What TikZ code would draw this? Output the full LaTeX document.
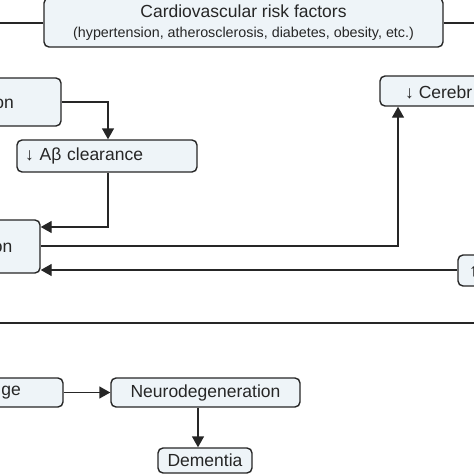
\documentclass[tikz,border=0pt]{standalone}
\usepackage{fontspec}
\setmainfont{Liberation Sans}
\usetikzlibrary{arrows.meta}
\definecolor{boxfill}{HTML}{EEF4F8}
\definecolor{ink}{HTML}{262626}
\tikzset{
  box/.style={draw=ink, line width=1.4pt, rounded corners=5pt, fill=boxfill, inner sep=0pt, text=ink, font=\fontsize{17.5}{21}\selectfont},
  frag/.style={inner sep=0pt, text=ink, font=\fontsize{17.5}{21}\selectfont},
  conn/.style={draw=ink, line width=1.4pt},
  arr/.style={conn, -{Triangle[length=11pt,width=12pt]}}
}
\begin{document}
\begin{tikzpicture}[x=1pt,y=-1pt]
\useasboundingbox (0,0) rectangle (474,474);
\clip (0,0) rectangle (474,474);
% boxes
\node[box, minimum width=399pt, minimum height=49pt, align=center] (risk) at (243.5,22.5)
  {Cardiovascular risk factors\\[-1pt]{\fontsize{14.3}{17}\selectfont (hypertension, atherosclerosis, diabetes, obesity, etc.)}};
\node[box, minimum width=121pt, minimum height=48pt] (l1) at (0.5,102) {};
\node[frag, anchor=east] (l1t) at (14,103.5) {on};
\node[box, minimum width=180pt, minimum height=32pt, text width=164pt, align=left] (ab) at (107,156) {↓ Aβ clearance};
\node[box, minimum width=100pt, minimum height=53pt] (l2) at (-10,246.5) {};
\node[frag, anchor=east] (l2t) at (12.5,248) {on};
\node[box, minimum width=160pt, minimum height=30pt] (cer) at (460,91) {};
\node[frag, anchor=west] (cert) at (405,92) {↓ Cerebr};
\node[box, minimum width=102pt, minimum height=31pt] (up) at (509,270.5) {};
\node[frag, anchor=west] (upt) at (469,272) {↑};
\node[box, minimum width=123pt, minimum height=29pt] (ge) at (1.5,392.5) {};
\node[frag, anchor=east] (get) at (21,393) {ge};
\node[box, minimum width=189pt, minimum height=29pt] (neuro) at (205.5,392.5) {Neurodegeneration};
\node[box, minimum width=94pt, minimum height=25pt] (dem) at (205,460.5) {Dementia};
% free ends
\coordinate (lft) at (0,23);
\coordinate (rgt) at (474,23);
\coordinate (sepl) at (0,323);
\coordinate (sepr) at (474,323);
% connectors
\draw[conn] (risk.west |- lft) -- (lft);
\draw[conn] (risk.east |- rgt) -- (rgt);
\draw[conn] (sepl) -- (sepr);
\draw[arr] (l1.east |- 0,102) -| (108,0 |- ab.north);
\draw[arr] (108,0 |- ab.south) |- (l2.east |- 0,227);
\draw[arr] (l2.east |- 0,246) -| (398,0 |- cer.south);
\draw[arr] (up.west |- 0,270) -- (l2.east |- 0,270);
\draw[arr] (ge) -- (neuro);
\draw[arr] (198,0 |- neuro.south) -- (198,0 |- dem.north);
\end{tikzpicture}
\end{document}
